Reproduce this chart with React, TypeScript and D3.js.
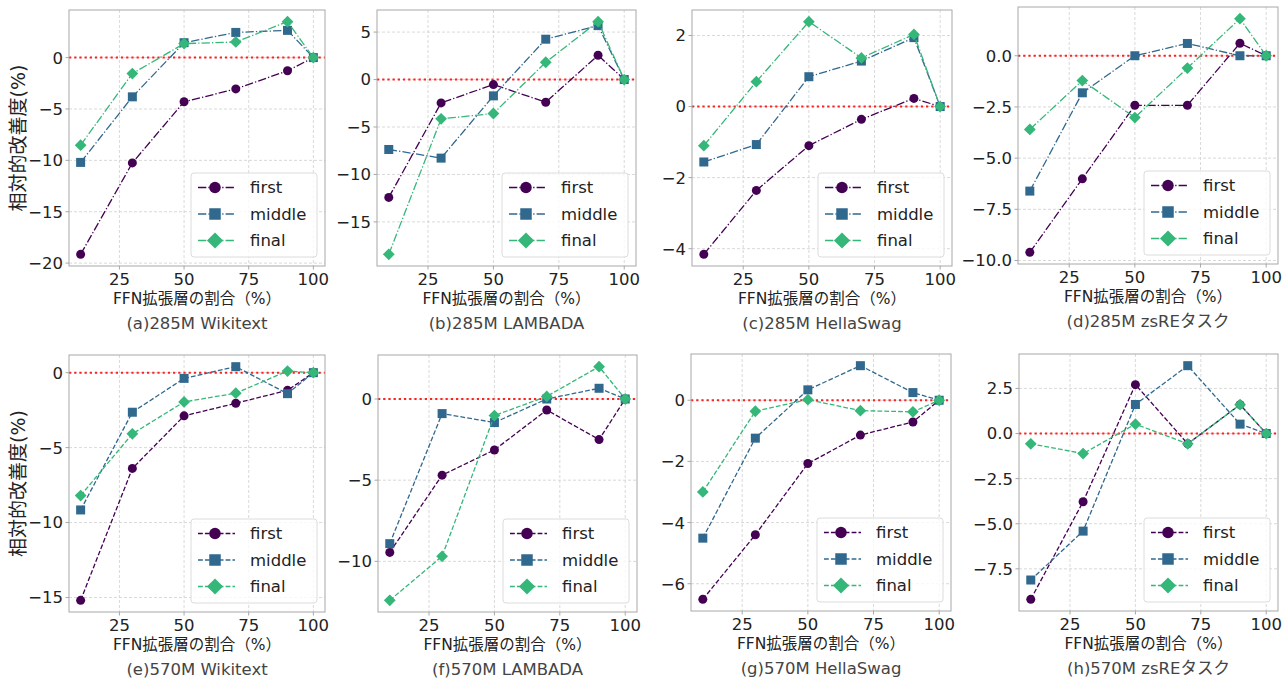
import React, { useRef, useEffect } from "react";
import * as d3 from "d3";

// x positions (percentage of FFN expansion layers)
const xValues = [10, 30, 50, 70, 90, 100];
const xTicks = [25, 50, 75, 100];
const seriesNames = ["first", "middle", "final"];
const seriesColors = ["#440154", "#31688e", "#35b779"];

// [first, middle, final]
const wiki285 = [
  [-19.15, -10.25, -4.3, -3.05, -1.28, 0],
  [-10.2, -3.82, 1.45, 2.45, 2.65, 0],
  [-8.52, -1.55, 1.36, 1.52, 3.5, 0],
];
const lambada285 = [
  [-12.42, -2.46, -0.53, -2.39, 2.56, 0],
  [-7.37, -8.28, -1.72, 4.25, 5.68, 0],
  [-18.42, -4.14, -3.58, 1.82, 6.1, 0],
];
const hella285 = [
  [-4.16, -2.36, -1.1, -0.36, 0.23, 0],
  [-1.56, -1.07, 0.84, 1.28, 1.94, 0],
  [-1.1, 0.7, 2.39, 1.37, 2.03, 0],
];
const zsre285 = [
  [-9.6, -6.01, -2.42, -2.42, 0.61, 0],
  [-6.61, -1.81, 0, 0.6, 0, 0],
  [-3.6, -1.21, -3.02, -0.6, 1.81, 0],
];
const wiki570 = [
  [-15.19, -6.39, -2.88, -2.04, -1.18, 0],
  [-9.16, -2.64, -0.38, 0.4, -1.4, 0],
  [-8.2, -4.08, -1.95, -1.37, 0.11, 0],
];
const lambada570 = [
  [-9.45, -4.69, -3.14, -0.68, -2.5, 0],
  [-8.91, -0.9, -1.45, 0.0, 0.66, 0],
  [-12.4, -9.69, -1.02, 0.16, 1.99, 0],
];
const hella570 = [
  [-6.51, -4.4, -2.07, -1.14, -0.71, 0],
  [-4.51, -1.24, 0.34, 1.13, 0.25, 0],
  [-3.0, -0.36, 0.02, -0.34, -0.38, 0],
];
const zsre570 = [
  [-9.19, -3.78, 2.71, -0.57, 1.6, 0],
  [-8.12, -5.41, 1.61, 3.76, 0.52, 0],
  [-0.57, -1.11, 0.52, -0.57, 1.6, 0],
];

const ticksWiki285 = [-20, -15, -10, -5, 0];
const ticksLambada285 = [-15, -10, -5, 0, 5];
const ticksHella285 = [-4, -2, 0, 2];
const ticksZsre285 = [-10, -7.5, -5, -2.5, 0];
const ticksWiki570 = [-15, -10, -5, 0];
const ticksLambada570 = [-10, -5, 0];
const ticksHella570 = [-6, -4, -2, 0];
const ticksZsre570 = [-7.5, -5, -2.5, 0, 2.5];

const xLabel = "FFN拡張層の割合（%）";
const yLabel = "相対的改善度(%)";

const panels = [
  { title: "(a)285M Wikitext", values: wiki285, ticks: ticksWiki285, dec: 0, box: [69, 325, 10, 266] },
  { title: "(b)285M LAMBADA", values: lambada285, ticks: ticksLambada285, dec: 0, box: [377, 636, 10, 266] },
  { title: "(c)285M HellaSwag", values: hella285, ticks: ticksHella285, dec: 0, box: [692, 952, 10, 266] },
  { title: "(d)285M zsREタスク", values: zsre285, ticks: ticksZsre285, dec: 1, box: [1018, 1278, 7, 264] },
  { title: "(e)570M Wikitext", values: wiki570, ticks: ticksWiki570, dec: 0, box: [69, 325, 355, 612] },
  { title: "(f)570M LAMBADA", values: lambada570, ticks: ticksLambada570, dec: 0, box: [378, 637, 355, 612] },
  { title: "(g)570M HellaSwag", values: hella570, ticks: ticksHella570, dec: 0, box: [691, 951, 354, 611] },
  { title: "(h)570M zsREタスク", values: zsre570, ticks: ticksZsre570, dec: 1, box: [1019, 1278, 354, 611] },
];

const FONT = '"DejaVu Sans", "Noto Sans CJK JP", sans-serif';
const GRID = "#cfcfcf";
const SPINE = "#a8a8a8";

const fmt = (v, dec) => (v < 0 ? "\u2212" : "") + Math.abs(v).toFixed(dec);

const drawMarker = (g, kind, cx, cy, s, color) => {
  if (kind === 0) {
    g.append("circle").attr("cx", cx).attr("cy", cy).attr("r", s / 2).attr("fill", color);
  } else if (kind === 1) {
    g.append("rect")
      .attr("x", cx - s / 2)
      .attr("y", cy - s / 2)
      .attr("width", s)
      .attr("height", s)
      .attr("fill", color);
  } else {
    const h = s * 0.62;
    g.append("path")
      .attr("d", `M${cx},${cy - h}L${cx + h},${cy}L${cx},${cy + h}L${cx - h},${cy}Z`)
      .attr("fill", color);
  }
};

const App = () => {
  const chartRef = useRef(null);

  useEffect(() => {
    const svg = d3.select(chartRef.current);
    svg.selectAll("*").remove();

    panels.forEach((p, i) => {
      const [l, r, t, b] = p.box;
      const topRow = i < 4;
      const dash = topRow ? "8.3,2.1,1.3,2.1" : "4.8,2.1";
      const all = p.values.flat();
      const lo = d3.min(all);
      const hi = d3.max(all);
      const pad = (hi - lo) * 0.05;
      const x = d3.scaleLinear().domain([5.5, 104.5]).range([l, r]);
      const y = d3.scaleLinear().domain([lo - pad, hi + pad]).range([b, t]);

      const g = svg.append("g").style("font-family", FONT);

      // grid
      xTicks.forEach((tv) => {
        g.append("line")
          .attr("x1", x(tv)).attr("x2", x(tv))
          .attr("y1", t).attr("y2", b)
          .attr("stroke", GRID).attr("stroke-width", 0.8)
          .attr("stroke-dasharray", "3,2");
      });
      p.ticks.forEach((tv) => {
        g.append("line")
          .attr("x1", l).attr("x2", r)
          .attr("y1", y(tv)).attr("y2", y(tv))
          .attr("stroke", GRID).attr("stroke-width", 0.8)
          .attr("stroke-dasharray", "3,2");
      });

      // zero reference
      g.append("line")
        .attr("x1", l).attr("x2", r)
        .attr("y1", y(0)).attr("y2", y(0))
        .attr("stroke", "#ff2020").attr("stroke-width", 2)
        .attr("stroke-dasharray", "2.2,3");

      const line = d3.line().x((d) => x(d[0])).y((d) => y(d[1]));

      p.values.forEach((vals, s) => {
        const pts = xValues.map((xv, k) => [xv, vals[k]]);
        g.append("path")
          .attr("d", line(pts))
          .attr("fill", "none")
          .attr("stroke", seriesColors[s])
          .attr("stroke-width", 1.3)
          .attr("stroke-dasharray", dash);
        pts.forEach((pt) => drawMarker(g, s, x(pt[0]), y(pt[1]), s === 2 ? 9.5 : 9, seriesColors[s]));
      });

      // frame
      g.append("rect")
        .attr("x", l).attr("y", t)
        .attr("width", r - l).attr("height", b - t)
        .attr("fill", "none").attr("stroke", SPINE).attr("stroke-width", 1);

      // ticks
      xTicks.forEach((tv) => {
        g.append("line")
          .attr("x1", x(tv)).attr("x2", x(tv))
          .attr("y1", b).attr("y2", b + 3.5)
          .attr("stroke", SPINE);
        g.append("text")
          .attr("x", x(tv)).attr("y", b + 18.5)
          .attr("text-anchor", "middle")
          .attr("font-size", 16.5).attr("fill", "#222")
          .text(tv);
      });
      p.ticks.forEach((tv) => {
        g.append("line")
          .attr("x1", l - 3.5).attr("x2", l)
          .attr("y1", y(tv)).attr("y2", y(tv))
          .attr("stroke", SPINE);
        g.append("text")
          .attr("x", l - 6).attr("y", y(tv))
          .attr("dy", "0.36em")
          .attr("text-anchor", "end")
          .attr("font-size", 16.5).attr("fill", "#222")
          .text(fmt(tv, p.dec));
      });

      const cx = (l + r) / 2;
      g.append("text")
        .attr("x", cx).attr("y", b + 38)
        .attr("text-anchor", "middle")
        .attr("font-size", 15.5).attr("fill", "#222")
        .text(xLabel);
      g.append("text")
        .attr("x", cx).attr("y", b + 63)
        .attr("text-anchor", "middle")
        .attr("font-size", 16.5).attr("fill", "#444")
        .text(p.title);

      if (i % 4 === 0) {
        g.append("text")
          .attr("transform", `translate(${25},${(t + b) / 2}) rotate(-90)`)
          .attr("text-anchor", "middle")
          .attr("font-size", 19).attr("fill", "#222")
          .text(yLabel);
      }

      // legend
      const lw = 126;
      const lh = 84;
      const lx = r - 8 - lw;
      const ly = b - 9 - lh;
      const lg = g.append("g");
      lg.append("rect")
        .attr("x", lx).attr("y", ly)
        .attr("width", lw).attr("height", lh)
        .attr("rx", 3)
        .attr("fill", "white").attr("fill-opacity", 0.8)
        .attr("stroke", "#dcdcdc");
      seriesNames.forEach((name, s) => {
        const ry = ly + 14.5 + s * 26.5;
        lg.append("line")
          .attr("x1", lx + 7).attr("x2", lx + 44)
          .attr("y1", ry).attr("y2", ry)
          .attr("stroke", seriesColors[s]).attr("stroke-width", 1.3)
          .attr("stroke-dasharray", topRow ? "8.3,2.1,1.3,2.1" : "4.8,2.1");
        drawMarker(lg, s, lx + 24, ry, s === 2 ? 13 : 11.5, seriesColors[s]);
        lg.append("text")
          .attr("x", lx + 59).attr("y", ry)
          .attr("dy", "0.36em")
          .attr("font-size", 16.5).attr("fill", "#222")
          .text(name);
      });
    });
  }, []);

  return (
    <div style={{ position: "fixed", left: 0, top: 0 }}>
      <svg ref={chartRef} width={1284} height={680} style={{ display: "block", background: "white" }} />
    </div>
  );
};

export default App;
